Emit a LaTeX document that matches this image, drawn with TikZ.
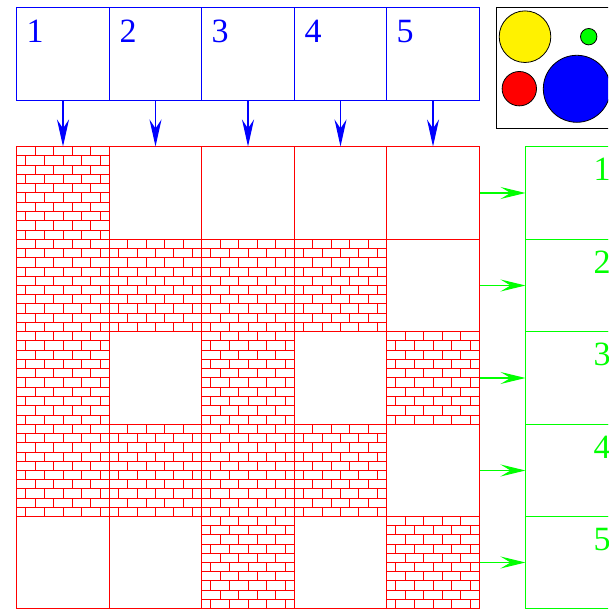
\documentclass[tikz,border=0pt]{standalone}
\usepackage{fontspec}
\setmainfont{Liberation Serif}
\usepackage{xcolor}
\usetikzlibrary{arrows.meta,positioning}

\definecolor{figgreen}{RGB}{0,255,0}

% bricks inside one cell of the grid: #1 node, #2 width, #3 height
\newcommand{\brickfill}[3]{%
  \begin{scope}[shift={(#1.north west)}]
    \foreach \k in {1,...,9}
      \draw[brick] (0,-\k*#3/10) -- ++(#2,0);
    \foreach \k in {0,2,...,8} {
      \foreach \j in {1,...,4}
        \draw[brick] (\j*#2/5,-\k*#3/10) -- ++(0,-#3/10);
      \foreach \j in {0,...,4}
        \draw[brick] (#2/10+\j*#2/5,-\k*#3/10-#3/10) -- ++(0,-#3/10);
    }
  \end{scope}}

\begin{document}
\begin{tikzpicture}[
  x=1pt, y=1pt,
  node distance=0pt,
  box/.style={line width=1.1pt, inner sep=0pt, outer sep=0pt},
  topbox/.style={box, draw=blue, minimum height=93pt},
  cell/.style={box, draw=red, line width=1.4pt},
  outbox/.style={box, draw=figgreen, minimum width=93pt},
  brick/.style={red, line width=1pt},
  num/.style={font=\fontsize{34}{40}\selectfont, inner sep=0pt, anchor=north west},
  dot/.style={circle, draw=black, line width=0.8pt, inner sep=0pt},
  bluearrow/.style={blue, line width=1.1pt, -{Stealth[length=27pt, width=12pt, inset=9pt]}},
  greenarrow/.style={figgreen, line width=1.1pt, -{Stealth[length=25pt, width=12pt, inset=10pt]}}
]
\useasboundingbox (0,0) rectangle (608,609);
\clip (0,0) rectangle (608,609);

% column heads
\foreach \c/\xa/\xb in {1/16.5/109.5, 2/109.5/201.5, 3/201.5/294.5, 4/294.5/386.5, 5/386.5/479.5} {
  \node[topbox, minimum width={(\xb-\xa)*1pt}] (top\c) at ({(\xa+\xb)/2}, 555) {};
  \node[num, blue] (toplab\c) at ([xshift=10pt, yshift=-12.5pt]top\c.north west) {\c};
}

% the grid
\foreach \c/\xa/\xb in {1/16.5/109.5, 2/109.5/201.5, 3/201.5/294.5, 4/294.5/386.5, 5/386.5/479.5}
  \foreach \r/\ya/\yb in {1/462.5/369.5, 2/369.5/277.5, 3/277.5/184.5, 4/184.5/92.5, 5/92.5/0.5}
    \node[cell, minimum width={(\xb-\xa)*1pt}, minimum height={(\ya-\yb)*1pt}] (cell-\r-\c) at ({(\xa+\xb)/2}, {(\ya+\yb)/2}) {};
\foreach \r/\c/\w/\h in {1/1/93/93, 2/1/93/92, 2/2/92/92, 2/3/93/92, 2/4/92/92,
    3/1/93/93, 3/3/93/93, 3/5/93/93, 4/1/93/92, 4/2/92/92, 4/3/93/92, 4/4/92/92,
    5/3/93/92, 5/5/93/92} {
  \brickfill{cell-\r-\c}{\w}{\h}
}

% row outputs
\foreach \r/\h in {1/93, 2/92, 3/93, 4/92, 5/92} {
  \node[outbox, minimum height=\h pt, anchor=west] (out\r) at ([xshift=46pt]cell-\r-5.east) {};
  \node[num, figgreen] (outlab\r) at ([xshift=68pt, yshift=-11.5pt]out\r.north west) {\r};
}

% legend
\node[box, draw=black, minimum width=130pt, minimum height=121pt, anchor=north west] (legend) at (496.5,601.5) {};
\node[dot, fill=yellow, minimum size=51.6pt] (yellowdot) at (525,572.3) {};
\node[dot, fill=figgreen, minimum size=16.4pt] (greendot) at (588.7,572.3) {};
\node[dot, fill=red, minimum size=34.4pt] (reddot) at (519.3,520.3) {};
\node[dot, fill=blue, minimum size=67pt] (bluedot) at (576.8,520.2) {};

% arrows
\foreach \i in {1,...,5}
  \draw[bluearrow] (top\i.south) -- (cell-1-\i.north);
\foreach \r in {1,...,5}
  \draw[greenarrow] (cell-\r-5.east) -- (out\r.west);
\end{tikzpicture}
\end{document}
